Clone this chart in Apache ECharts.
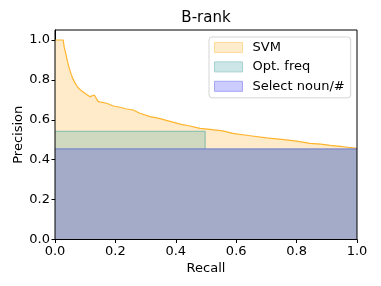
<!DOCTYPE html>
<html>
<head>
<meta charset="utf-8">
<script src="https://cdn.jsdelivr.net/npm/echarts@6/dist/echarts.min.js"></script>
<style>
html,body{margin:0;padding:0;background:#fff;}
#chart{width:381px;height:286px;}
</style>
</head>
<body>
<div id="chart"></div>
<script>
// ---- data ----
const chartTitle = 'B-rank';
const seriesNames = ['SVM', 'Opt. freq', 'Select noun/#'];
const svmRecall = [0, 0.027, 0.031, 0.036, 0.041, 0.046, 0.052, 0.058, 0.066, 0.076, 0.088, 0.100, 0.116, 0.130, 0.143, 0.171, 0.193, 0.215, 0.237, 0.259, 0.281, 0.315, 0.348, 0.381, 0.414, 0.447, 0.480, 0.513, 0.555, 0.589, 0.646, 0.700, 0.750, 0.800, 0.844, 0.880, 0.911, 0.954, 1.0];
const svmPrecision = [1.0, 1.0, 0.96, 0.93, 0.895, 0.865, 0.835, 0.81, 0.785, 0.762, 0.745, 0.732, 0.716, 0.724, 0.691, 0.683, 0.669, 0.663, 0.654, 0.649, 0.633, 0.616, 0.606, 0.592, 0.578, 0.569, 0.557, 0.552, 0.544, 0.532, 0.520, 0.509, 0.502, 0.493, 0.482, 0.478, 0.472, 0.465, 0.457];
const optFreqRecall = [0, 0.497];
const optFreqPrecision = 0.542;
const selectRecall = [0, 1.0];
const selectPrecision = 0.454;
const tickValues = [0, 0.2, 0.4, 0.6, 0.8, 1.0];

const font = 'DejaVu Sans';
const svmData = svmRecall.map((r, i) => [r, svmPrecision[i]]);
const optData = [[optFreqRecall[0], optFreqPrecision], [optFreqRecall[1], optFreqPrecision], [optFreqRecall[1], selectPrecision]];
const selData = selectRecall.map(r => [r, selectPrecision]);

const chart = echarts.init(document.getElementById('chart'), null, {renderer: 'canvas'});
const fmt = v => (v > 1.001 ? '' : v.toFixed(1));
chart.setOption({
  animation: false,
  backgroundColor: '#fff',
  textStyle: {fontFamily: font},
  title: {
    text: chartTitle, left: 206, top: 11, padding: 0, textAlign: 'center',
    textStyle: {fontFamily: font, fontSize: 15, fontWeight: 'normal', color: '#000'}
  },
  grid: {left: 55, right: 24, top: 30, bottom: 46.5, containLabel: false, outerBoundsMode: 'none', show: true, borderColor: '#000', borderWidth: 1, backgroundColor: 'transparent', z: 10},
  legend: {
    orient: 'vertical', left: 209, top: 37, icon: 'rect',
    itemWidth: 28, itemHeight: 10, itemGap: 4.4,
    padding: [3, 6, 4, 5],
    borderColor: '#d5d5d5', borderWidth: 1, borderRadius: 3,
    backgroundColor: 'rgba(255,255,255,0.85)',
    textStyle: {fontFamily: font, fontSize: 13, color: '#000', lineHeight: 15, padding: [0, 0, 0, 5]},
    data: [
      {name: seriesNames[0], itemStyle: {color: '#ffeccc', borderColor: '#ffdb99', borderWidth: 1}},
      {name: seriesNames[1], itemStyle: {color: '#cce6e6', borderColor: '#a6d2d2', borderWidth: 1}},
      {name: seriesNames[2], itemStyle: {color: '#ccccff', borderColor: '#a6a6f5', borderWidth: 1}}
    ]
  },
  xAxis: {
    type: 'value', min: 0, max: 1, interval: 0.2,
    name: 'Recall', nameLocation: 'middle', nameGap: 23, nameMoveOverlap: false,
    nameTextStyle: {fontFamily: font, fontSize: 13, color: '#000'},
    axisLine: {show: true, lineStyle: {color: '#000', width: 1}},
    axisTick: {show: true, length: 3.5, lineStyle: {color: '#000'}},
    axisLabel: {fontFamily: font, fontSize: 13, color: '#000', margin: 6, formatter: fmt},
    splitLine: {show: false}
  },
  yAxis: {
    type: 'value', min: 0, max: 1.05, interval: 0.2,
    name: 'Precision', nameLocation: 'middle', nameGap: 30, nameRotate: 90, nameMoveOverlap: false,
    nameTextStyle: {fontFamily: font, fontSize: 13, color: '#000'},
    axisLine: {show: true, lineStyle: {color: '#000', width: 1}},
    axisTick: {show: true, length: 3.5, lineStyle: {color: '#000'}},
    axisLabel: {fontFamily: font, fontSize: 13, color: '#000', margin: 5, formatter: fmt, showMaxLabel: false},
    splitLine: {show: false}
  },
  series: [
    {
      name: seriesNames[0], type: 'line', data: svmData, showSymbol: false, z: 2,
      lineStyle: {color: '#ffb42e', width: 1.2},
      itemStyle: {color: '#ffb42e'},
      areaStyle: {color: '#ffebc9', opacity: 1}
    },
    {
      name: seriesNames[1], type: 'line', data: optData, showSymbol: false, z: 3,
      lineStyle: {color: '#92c4b4', width: 1.3},
      itemStyle: {color: '#92c4b4'},
      areaStyle: {color: '#cfd9bf', opacity: 1}
    },
    {
      name: seriesNames[2], type: 'line', data: selData, showSymbol: false, z: 4,
      lineStyle: {color: '#6a78cc', width: 1},
      itemStyle: {color: '#6a78cc'},
      areaStyle: {color: '#a3abc9', opacity: 1}
    }
  ]
});
</script>
</body>
</html>
